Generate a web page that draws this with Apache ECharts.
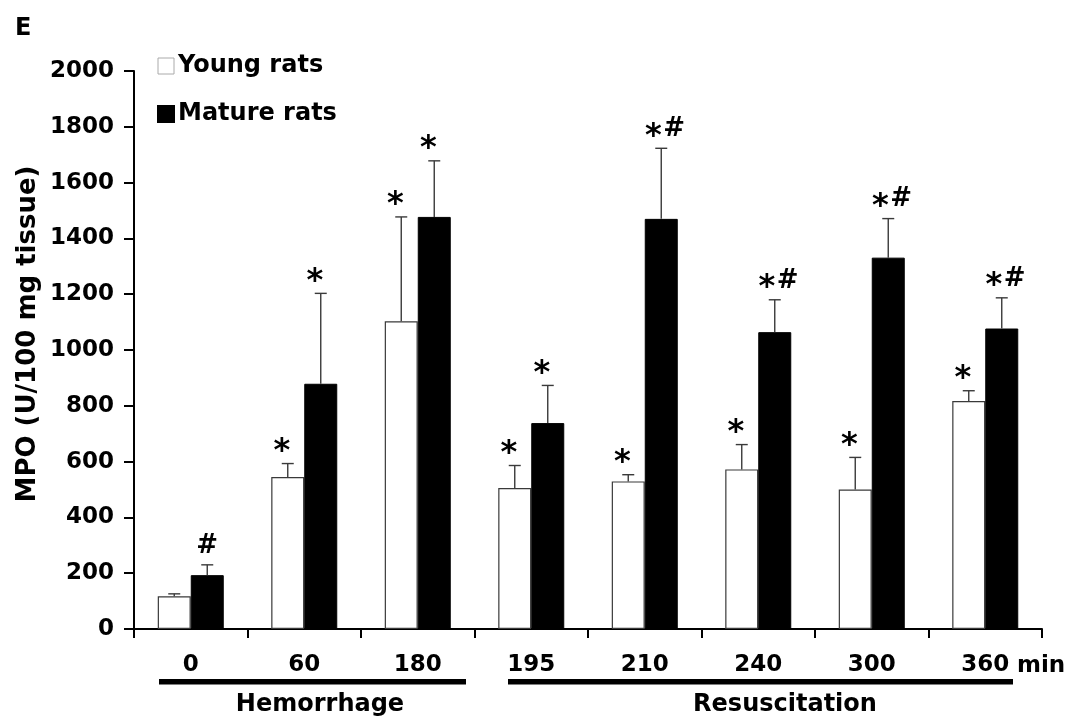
<!DOCTYPE html>
<html>
<head>
<meta charset="utf-8">
<script src="https://cdn.jsdelivr.net/npm/echarts@6/dist/echarts.min.js"></script>
<style>
html,body{margin:0;padding:0;background:#fff;}
#chart{width:1071px;height:719px;}
</style>
</head>
<body>
<div id="chart"></div>
<script>
// ---- data ----
const categories = ['0', '60', '180', '195', '210', '240', '300', '360'];
const youngMean = [117, 545, 1103, 505, 529, 572, 500, 817];
const youngErr  = [9, 48, 374, 81, 24, 89, 115, 37];
const matureMean = [193, 879, 1477, 738, 1470, 1064, 1331, 1077];
const matureErr  = [37, 324, 201, 135, 253, 116, 140, 110];
const youngMarks  = ['', '*', '*', '*', '*', '*', '*', '*'];
const matureMarks = ['#', '*', '*', '*', '*#', '*#', '*#', '*#'];
const yTicks = [0, 200, 400, 600, 800, 1000, 1200, 1400, 1600, 1800, 2000];
const phaseLabels = ['Hemorrhage', 'Resuscitation'];
const yAxisTitle = 'MPO (U/100 mg tissue)';

// ---- style ----
const FONT = 'DejaVu Sans';
const BAR_W = 33;

const chart = echarts.init(document.getElementById('chart'));

function errRenderer(means, errs, marks, side) {
  return function (params, api) {
    const i = params.dataIndex;
    const idx = api.value(0);
    const v = api.value(1);
    const e = api.value(2);
    const p0 = api.coord([idx, v]);
    const p1 = api.coord([idx, v + e]);
    const x = p0[0] + side * BAR_W / 2;
    const children = [
      { type: 'line', shape: { x1: x, y1: p0[1], x2: x, y2: p1[1] },
        style: { stroke: '#3a3a3a', lineWidth: 1.4 } },
      { type: 'line', shape: { x1: x - 6, y1: p1[1], x2: x + 6, y2: p1[1] },
        style: { stroke: '#3a3a3a', lineWidth: 1.4 } }
    ];
    const m = marks[i];
    const baseY = p1[1] - 11; // bottom of glyphs
    if (m === '*') {
      children.push({ type: 'text', style: { text: '*', x: x - 6, y: baseY - 1, font: 'bold 32px "' + FONT + '"',
        textAlign: 'center', textVerticalAlign: 'middle', fill: '#000' } });
    } else if (m === '#') {
      children.push({ type: 'text', style: { text: '#', x: x, y: baseY - 8, font: 'bold 26px "' + FONT + '"',
        textAlign: 'center', textVerticalAlign: 'middle', fill: '#000' } });
    } else if (m === '*#') {
      children.push({ type: 'text', style: { text: '*', x: x - 8, y: baseY - 1, font: 'bold 32px "' + FONT + '"',
        textAlign: 'center', textVerticalAlign: 'middle', fill: '#000' } });
      children.push({ type: 'text', style: { text: '#', x: x + 13, y: baseY - 8, font: 'bold 26px "' + FONT + '"',
        textAlign: 'center', textVerticalAlign: 'middle', fill: '#000' } });
    }
    return { type: 'group', children: children };
  };
}

const option = {
  animation: false,
  backgroundColor: '#fff',
  textStyle: { fontFamily: FONT },
  title: {
    text: 'E', left: 15, top: 17, padding: 0,
    textStyle: { fontFamily: FONT, fontWeight: 'bold', fontSize: 24, color: '#000' }
  },
  legend: {
    orient: 'vertical', left: 157, top: 52, padding: 0,
    itemWidth: 16, itemHeight: 16, itemGap: 20,
    icon: 'rect',
    textStyle: { fontFamily: FONT, fontWeight: 'bold', fontSize: 24, color: '#000', lineHeight: 28, padding: [0, 0, 0, -1] },
    data: [
      { name: 'Young rats', itemStyle: { color: '#fff', borderColor: '#aaa', borderWidth: 1 } },
      { name: 'Mature rats', itemStyle: { color: '#000' } }
    ]
  },
  grid: { left: 134, right: 29, top: 71, bottom: 90, containLabel: false },
  xAxis: {
    type: 'category',
    data: categories,
    axisLine: { lineStyle: { color: '#000', width: 2 } },
    axisTick: { show: true, length: 9, lineStyle: { color: '#000', width: 2 } },
    axisLabel: { margin: 25, fontFamily: FONT, fontWeight: 'bold', fontSize: 23, color: '#000' },
    splitLine: { show: false }
  },
  yAxis: {
    type: 'value', min: yTicks[0], max: yTicks[yTicks.length - 1], interval: yTicks[1] - yTicks[0],
    axisLine: { show: true, lineStyle: { color: '#000', width: 2 } },
    axisTick: { show: true, length: 10, lineStyle: { color: '#000', width: 2 } },
    axisLabel: { margin: 20, fontFamily: FONT, fontWeight: 'bold', fontSize: 23, color: '#000',
      formatter: function (v) { return String(v); } },
    splitLine: { show: false }
  },
  series: [
    {
      name: 'Young rats', type: 'bar', barWidth: BAR_W, barGap: '0%',
      itemStyle: { color: '#fff', borderColor: '#3a3a3a', borderWidth: 1.2 },
      data: youngMean, z: 2
    },
    {
      name: 'Mature rats', type: 'bar', barWidth: BAR_W, barGap: '0%',
      itemStyle: { color: '#000', borderColor: '#000', borderWidth: 1 },
      data: matureMean, z: 2
    },
    {
      name: 'Young err', type: 'custom', z: 3,
      renderItem: errRenderer(youngMean, youngErr, youngMarks, -1),
      data: youngMean.map((v, i) => [i, v, youngErr[i]])
    },
    {
      name: 'Mature err', type: 'custom', z: 3,
      renderItem: errRenderer(matureMean, matureErr, matureMarks, 1),
      data: matureMean.map((v, i) => [i, v, matureErr[i]])
    }
  ],
  graphic: [
    { type: 'text', x: 28, y: 334, rotation: Math.PI / 2,
      style: { text: yAxisTitle, x: 0, y: 0, textAlign: 'center', textVerticalAlign: 'middle',
        font: 'bold 26px "' + FONT + '"', fill: '#000' } },
    { type: 'rect', shape: { x: 159, y: 679, width: 307, height: 5.5 }, style: { fill: '#000' } },
    { type: 'rect', shape: { x: 508, y: 679, width: 505, height: 5.5 }, style: { fill: '#000' } },
    { type: 'text', style: { text: phaseLabels[0], x: 320, y: 705, textAlign: 'center', textVerticalAlign: 'middle',
        font: 'bold 24px "' + FONT + '"', fill: '#000' } },
    { type: 'text', style: { text: phaseLabels[1], x: 785, y: 705, textAlign: 'center', textVerticalAlign: 'middle',
        font: 'bold 24px "' + FONT + '"', fill: '#000' } },
    { type: 'text', style: { text: 'min', x: 1017, y: 666, textAlign: 'left', textVerticalAlign: 'middle',
        font: 'bold 23px "' + FONT + '"', fill: '#000' } }
  ]
};
chart.setOption(option);
</script>
</body>
</html>
